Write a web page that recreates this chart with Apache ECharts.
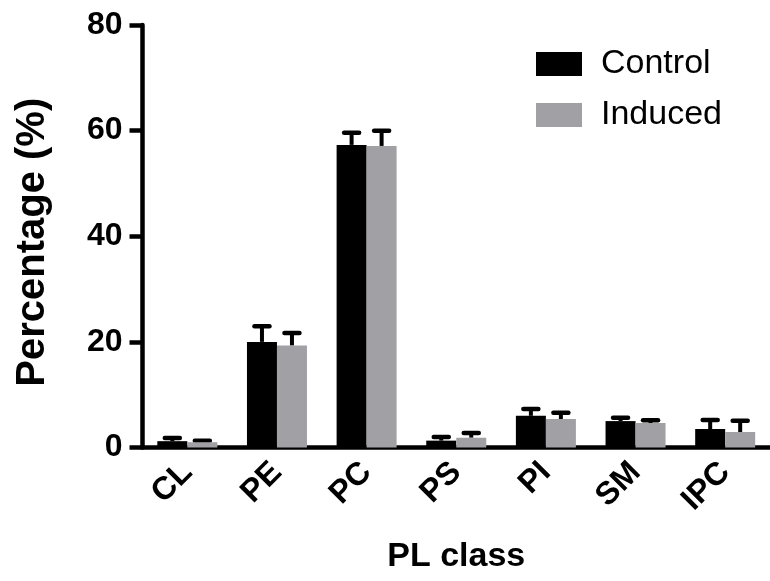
<!DOCTYPE html>
<html>
<head>
<meta charset="utf-8">
<script src="https://cdn.jsdelivr.net/npm/echarts@6/dist/echarts.min.js"></script>
<style>html,body{margin:0;padding:0;background:#fff}#c{width:770px;height:581px}</style>
</head>
<body>
<div id="c"></div>
<script>
var categories = ['CL', 'PE', 'PC', 'PS', 'PI', 'SM', 'IPC'];
var controlValues = [1.2, 20.0, 57.3, 1.3, 6.0, 5.0, 3.5];
var controlErrors = [0.6, 2.95, 2.3, 0.7, 1.3, 0.65, 1.7];
var inducedValues = [1.0, 19.3, 57.1, 1.85, 5.4, 4.64, 2.94];
var inducedErrors = [0.3, 2.4, 2.9, 0.9, 1.2, 0.5, 2.14];
var yTicks = [0, 20, 40, 60, 80];

var FONT = "'Liberation Sans', Arial, sans-serif";
var GRAY = '#a1a0a5';

function errData(vals, errs) {
  return vals.map(function (v, i) { return [i, v, v + errs[i]]; });
}
function errSeries(vals, errs, offset) {
  return {
    type: 'custom',
    data: errData(vals, errs),
    z: 1,
    silent: true,
    renderItem: function (params, api) {
      var i = api.value(0);
      var base = api.coord([i, api.value(1)]);
      var top = api.coord([i, api.value(2)]);
      var x = base[0] + offset;
      return {
        type: 'group',
        children: [
          { type: 'line', shape: { x1: x, y1: base[1], x2: x, y2: top[1] },
            style: { stroke: '#000', lineWidth: 4 } },
          { type: 'line', shape: { x1: x - 7.5, y1: top[1], x2: x + 7.5, y2: top[1] },
            style: { stroke: '#000', lineWidth: 4.5, lineCap: 'round' } }
        ]
      };
    }
  };
}

var chart = echarts.init(document.getElementById('c'));
chart.setOption({
  animation: false,
  backgroundColor: '#fff',
  textStyle: { fontFamily: FONT },
  grid: { left: 142.5, top: 25, width: 637, height: 422.5 },
  legend: {
    data: ['Control', 'Induced'],
    orient: 'vertical',
    left: 531,
    top: 42,
    itemWidth: 46,
    itemHeight: 24,
    itemGap: 17,
    icon: 'rect',
    textStyle: { fontSize: 34, color: '#000', fontFamily: FONT, padding: [0, 0, 0, 14] }
  },
  xAxis: {
    type: 'category',
    data: categories,
    name: 'PL class',
    nameLocation: 'middle',
    nameGap: 92,
    nameTextStyle: { fontSize: 34, fontWeight: 'bold', color: '#000', fontFamily: FONT },
    axisLine: { lineStyle: { color: '#000', width: 4.5 } },
    axisTick: { alignWithLabel: true, length: 13, lineStyle: { color: '#000', width: 4.5 } },
    axisLabel: { rotate: 45, fontSize: 32, fontWeight: 'bold', color: '#000', margin: 20, fontFamily: FONT }
  },
  yAxis: {
    type: 'value',
    min: yTicks[0],
    max: yTicks[yTicks.length - 1],
    interval: yTicks[1] - yTicks[0],
    name: 'Percentage (%)',
    nameLocation: 'middle',
    nameGap: 90,
    nameTextStyle: { fontSize: 40, fontWeight: 'bold', color: '#000', fontFamily: FONT, padding: [0, 12, 0, 0] },
    splitLine: { show: false },
    axisLine: { show: true, lineStyle: { color: '#000', width: 4.5 } },
    axisTick: { show: true, length: 13, lineStyle: { color: '#000', width: 4.5 } },
    axisLabel: { fontSize: 32, fontWeight: 'bold', color: '#000', margin: 20, fontFamily: FONT }
  },
  series: [
    { name: 'Control', type: 'bar', data: controlValues, barWidth: 30, barGap: '0%',
      itemStyle: { color: '#000' }, z: 2 },
    { name: 'Induced', type: 'bar', data: inducedValues, barWidth: 30, barGap: '0%',
      itemStyle: { color: GRAY }, z: 2 },
    errSeries(controlValues, controlErrors, -15),
    errSeries(inducedValues, inducedErrors, 15)
  ]
});
</script>
</body>
</html>
